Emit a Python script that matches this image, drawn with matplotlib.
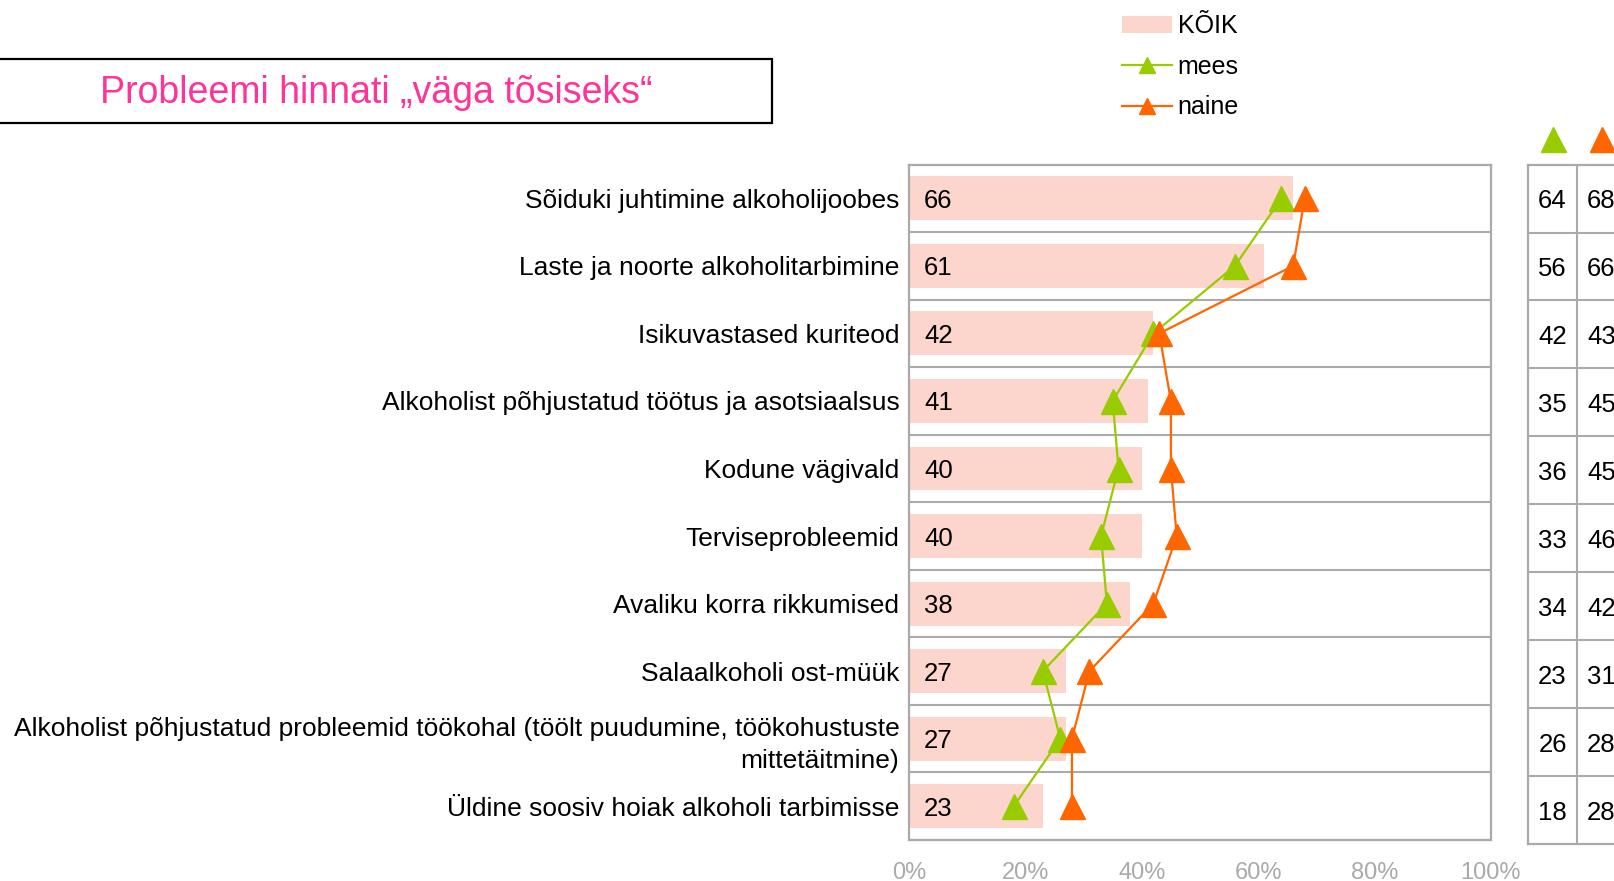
import matplotlib
matplotlib.use("Agg")
import matplotlib.pyplot as plt
from matplotlib.patches import Rectangle, Patch
from matplotlib.lines import Line2D

plt.rcParams['font.family'] = ['Liberation Sans', 'DejaVu Sans']

categories = [
    "Sõiduki juhtimine alkoholijoobes",
    "Laste ja noorte alkoholitarbimine",
    "Isikuvastased kuriteod",
    "Alkoholist põhjustatud töötus ja asotsiaalsus",
    "Kodune vägivald",
    "Terviseprobleemid",
    "Avaliku korra rikkumised",
    "Salaalkoholi ost-müük",
    "Alkoholist põhjustatud probleemid töökohal (töölt puudumine, töökohustuste\nmittetäitmine)",
    "Üldine soosiv hoiak alkoholi tarbimisse",
]
koik = [66, 61, 42, 41, 40, 40, 38, 27, 27, 23]
mees = [64, 56, 42, 35, 36, 33, 34, 23, 26, 18]
naine = [68, 66, 43, 45, 45, 46, 42, 31, 28, 28]
xticks = [0, 20, 40, 60, 80, 100]
xticklabels = ["0%", "20%", "40%", "60%", "80%", "100%"]

BAR = "#FCD5CC"
GREEN = "#99CC00"
ORANGE = "#FF6600"
GRID = "#AAAAAA"
PINK = "#FF3399"

W, H = 1614, 881
fig = plt.figure(figsize=(W / 100, H / 100), dpi=100)

# main axes
ax = fig.add_axes([909 / W, 41 / H, 582 / W, 675.4 / H])
y = list(range(len(categories)))
ax.barh(y, koik, height=0.65, color=BAR, zorder=1)
ax.plot(mees, y, color=GREEN, lw=1.6, marker="^", ms=18, zorder=3)
ax.plot(naine, y, color=ORANGE, lw=1.6, marker="^", ms=18, zorder=3)
for yi, v in zip(y, koik):
    ax.text(2.6, yi, str(v), ha="left", va="center_baseline", fontsize=18.5,
            color="black", zorder=4)
for i in range(len(categories) - 1):
    ax.axhline(i + 0.5, color=GRID, lw=1.5, zorder=0)
ax.set_xlim(0, 100)
ax.set_ylim(len(categories) - 0.5, -0.5)
ax.set_xticks(xticks)
ax.set_xticklabels(xticklabels)
ax.set_yticks(y)
ax.set_yticklabels(categories, linespacing=1.4)
ax.tick_params(axis="x", length=0, pad=16, labelsize=17, labelcolor=GRID)
ax.tick_params(axis="y", length=0, pad=7, labelsize=19)
for lab in ax.get_yticklabels():
    lab.set_multialignment("right")
for s in ax.spines.values():
    s.set_color(GRID)
    s.set_linewidth(1.6)

# right table axes
tx = fig.add_axes([1528 / W, 37 / H, 98 / W, 679.4 / H])
tx.set_xlim(0, 2)
tx.set_ylim(len(categories) - 0.5, -0.5)
for yi, (m, n) in enumerate(zip(mees, naine)):
    tx.text(0.5, yi, str(m), ha="center", va="center_baseline", fontsize=18.5)
    tx.text(1.5, yi, str(n), ha="center", va="center_baseline", fontsize=18.5)
for i in range(len(categories) - 1):
    tx.axhline(i + 0.5, color=GRID, lw=1.5)
tx.axvline(1, color=GRID, lw=1.5)
tx.set_xticks([])
tx.set_yticks([])
for s in tx.spines.values():
    s.set_color(GRID)
    s.set_linewidth(1.6)
tx.plot([0.5], [-0.88], marker="^", ms=18, color=GREEN, clip_on=False, lw=0)
tx.plot([1.5], [-0.88], marker="^", ms=18, color=ORANGE, clip_on=False, lw=0)

# title box
fig.patches.append(Rectangle((-5 / W, (H - 122.5) / H), 777 / W, 64 / H,
                             transform=fig.transFigure, fill=False,
                             edgecolor="black", lw=1.6))
fig.text(376 / W, (H - 93) / H, "Probleemi hinnati „väga tõsiseks“", ha="center",
         va="center", fontsize=27, color=PINK)

# legend
handles = [
    Patch(facecolor=BAR, edgecolor="none"),
    Line2D([], [], color=GREEN, lw=1.6, marker="^", ms=12),
    Line2D([], [], color=ORANGE, lw=1.6, marker="^", ms=12),
]
fig.legend(handles, ["KÕIK", "mees", "naine"], loc="upper left",
           bbox_to_anchor=(1112 / W, 1.0 - 4 / H), frameon=False, fontsize=18,
           handlelength=1.98, handletextpad=0.25, labelspacing=0.67,
           borderaxespad=0.0)

fig.savefig("out.png", dpi=100)
